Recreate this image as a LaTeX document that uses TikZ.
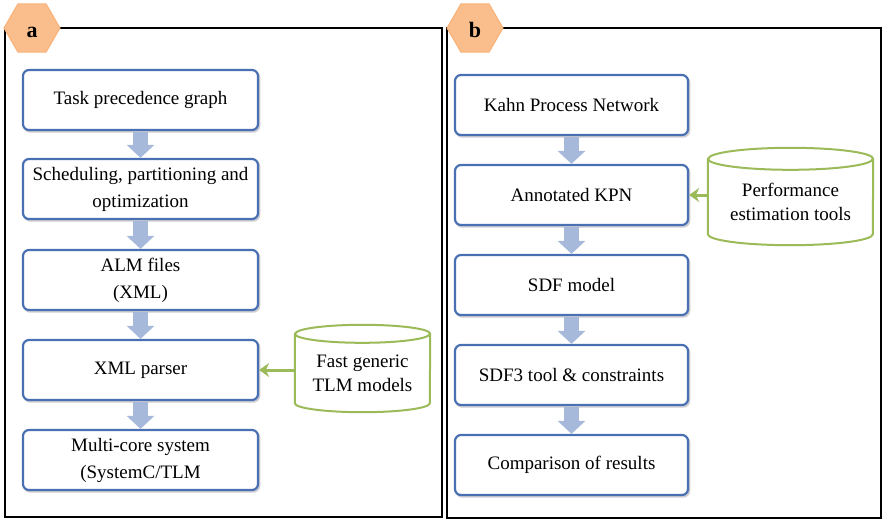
\documentclass[tikz,border=0pt]{standalone}
\usepackage{fontspec}
\setmainfont{Liberation Serif}
\usetikzlibrary{shapes.geometric,arrows.meta}
\definecolor{boxblue}{RGB}{72,112,178}
\definecolor{boxshade}{RGB}{205,205,210}
\definecolor{flowarrow}{RGB}{166,185,218}
\definecolor{toolgreen}{RGB}{155,187,89}
\definecolor{hexfill}{RGB}{250,190,140}
\definecolor{hexline}{RGB}{248,178,120}
% centred multi-line label without the align key
\newcommand{\twoline}[1]{\begin{tabular}{@{}c@{}}#1\end{tabular}}
\begin{document}
\begin{tikzpicture}[x=1pt,y=-1pt,
  stage/.style={draw=boxblue, line width=2.2pt, rounded corners=6pt, fill=white,
    minimum height=60pt, inner sep=2pt,
    font=\fontsize{19}{27}\selectfont,
    preaction={draw=boxshade, line width=2.2pt,
      transform canvas={xshift=1.2pt, yshift=-1.6pt}}},
  stageA/.style={stage, minimum width=235pt},
  stageB/.style={stage, minimum width=233pt},
  flow/.style={draw=flowarrow, line width=15pt,
    -{Triangle[width=27pt,length=13pt]}, shorten <=1.2pt},
  toolarrow/.style={draw=toolgreen, line width=3pt,
    -{Stealth[length=10pt,width=14pt]}},
  cylbody/.style={draw=toolgreen, line width=2pt, fill=white},
  cyltext/.style={font=\fontsize{19}{24}\selectfont},
  panel/.style={draw=black, line width=2.5pt},
  badge/.style={regular polygon, regular polygon sides=6, minimum size=56pt,
    inner sep=0pt, draw=hexline, line width=1pt, fill=hexfill},
  badgetext/.style={font=\fontsize{22}{22}\selectfont\bfseries, anchor=base}
]
\useasboundingbox (0,0) rectangle (883,522);

% panel frames
\draw[panel] (5,28) rectangle (442,517);
\draw[panel] (447,28) rectangle (881,518);

% panel badges
\node[badge] (hexA) at (32,28) {};
\node[badgetext] (labA) at (32,37.5) {a};
\node[badge] (hexB) at (475,28) {};
\node[badgetext] (labB) at (475,37.5) {b};

% ---- panel a: design flow ----
\node[stageA] (a1) at (140.5,100) {Task precedence graph};
\node[stageA] (a2) at (140.5,189) {\twoline{Scheduling, partitioning and\\optimization}};
\node[stageA] (a3) at (140.5,280) {\twoline{ALM files\\(XML)}};
\node[stageA] (a4) at (140.5,370) {XML parser};
\node[stageA] (a5) at (140.5,460) {\twoline{Multi-core system\\(SystemC/TLM}};

\draw[flow] (a1) -- (a2);
\draw[flow] (a2) -- (a3);
\draw[flow] (a3) -- (a4);
\draw[flow] (a4) -- (a5);

% TLM model library (cylinder)
\node[minimum width=135pt, minimum height=87pt, inner sep=0pt] (cylA) at (362.5,368.5) {};
\draw[cylbody] ([yshift=-9pt]cylA.north west) -- ([yshift=9pt]cylA.south west)
  arc[start angle=180, end angle=360, x radius=67.5pt, y radius=9pt]
  -- ([yshift=-9pt]cylA.north east)
  arc[start angle=0, end angle=180, x radius=67.5pt, y radius=9pt] -- cycle;
\draw[draw=toolgreen, line width=2pt] ([yshift=-9pt]cylA.north west)
  arc[start angle=180, end angle=360, x radius=67.5pt, y radius=9pt];
\node[cyltext] (cylAtext) at (362.5,375) {\twoline{Fast generic\\TLM models}};
\draw[toolarrow] (cylA.west |- a4.east) -- (a4.east);

% ---- panel b: analysis flow ----
\node[stageB] (b1) at (571.5,105) {Kahn Process Network};
\node[stageB] (b2) at (571.5,195) {Annotated KPN};
\node[stageB] (b3) at (571.5,285) {SDF model};
\node[stageB] (b4) at (571.5,375) {SDF3 tool \& constraints};
\node[stageB] (b5) at (571.5,465) {Comparison of results};

\draw[flow] (b1) -- (b2);
\draw[flow] (b2) -- (b3);
\draw[flow] (b3) -- (b4);
\draw[flow] (b4) -- (b5);

% performance estimation tools (cylinder)
\node[minimum width=165pt, minimum height=97pt, inner sep=0pt] (cylB) at (790.5,196.5) {};
\draw[cylbody] ([yshift=-11pt]cylB.north west) -- ([yshift=11pt]cylB.south west)
  arc[start angle=180, end angle=360, x radius=82.5pt, y radius=11pt]
  -- ([yshift=-11pt]cylB.north east)
  arc[start angle=0, end angle=180, x radius=82.5pt, y radius=11pt] -- cycle;
\draw[draw=toolgreen, line width=2pt] ([yshift=-11pt]cylB.north west)
  arc[start angle=180, end angle=360, x radius=82.5pt, y radius=11pt];
\node[cyltext] (cylBtext) at (790.5,204) {\twoline{Performance\\estimation tools}};
\draw[toolarrow] (cylB.west |- b2.east) -- (b2.east);
\end{tikzpicture}
\end{document}
